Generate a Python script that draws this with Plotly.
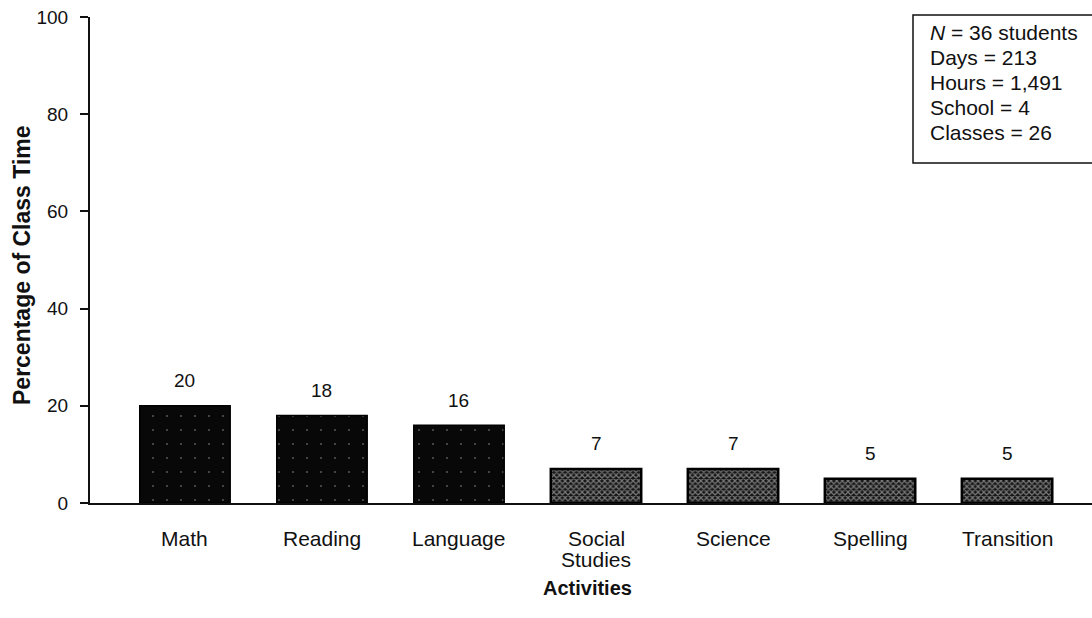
import plotly.graph_objects as go

# Share of class time spent on each activity
activities = ["Math", "Reading", "Language", "Social<br>Studies", "Science", "Spelling", "Transition"]
percent = [20, 18, 16, 7, 7, 5, 5]
core_subject = [True, True, True, False, False, False, False]

summary_lines = [
    "<i>N</i> = 36 students",
    "Days = 213",
    "Hours = 1,491",
    "School = 4",
    "Classes = 26",
]

y_ticks = [0, 20, 40, 60, 80, 100]

FONT = "Liberation Sans, Arial, Helvetica, sans-serif"
INK = "#111111"

# Plot area in pixels (figure is 1092 x 618)
L, R, T, B = 90, 0, 17, 115
PLOT_W = 1092 - L - R
PLOT_H = 618 - T - B


def px_x(x):
    return (x - L) / PLOT_W


def px_y(y):
    return (618 - B - y) / PLOT_H


fig = go.Figure()

# Core subjects: solid dark fill with faint specks
core_x = [a for a, c in zip(activities, core_subject) if c]
core_y = [p for p, c in zip(percent, core_subject) if c]
fig.add_trace(go.Bar(
    x=core_x, y=core_y,
    marker=dict(
        color="#080808",
        line=dict(color="#000000", width=1.5),
        pattern=dict(shape=".", fgcolor="#9a9a9a", bgcolor="#080808", size=14, solidity=0.02),
    ),
    width=0.66,
    showlegend=False,
    hoverinfo="x+y",
))

# Other activities: stippled fill with a dark outline
other_x = [a for a, c in zip(activities, core_subject) if not c]
other_y = [p for p, c in zip(percent, core_subject) if not c]
fig.add_trace(go.Bar(
    x=other_x, y=other_y,
    marker=dict(
        color="#111111",
        line=dict(color="#000000", width=2.5),
        pattern=dict(shape="x", fgcolor="#e0e0e0", bgcolor="#151515", size=4, solidity=0.5),
    ),
    width=0.66,
    showlegend=False,
    hoverinfo="x+y",
))

# Value labels above each bar
for a, p in zip(activities, percent):
    fig.add_annotation(
        x=a, y=p, xref="x", yref="y",
        text=str(p), showarrow=False,
        yshift=25, font=dict(family=FONT, size=19, color=INK),
    )

# Category labels under the axis, one annotation per text line
for a in activities:
    for i, line in enumerate(a.split("<br>")):
        fig.add_annotation(
            x=a, xref="x", yref="paper", y=0,
            yshift=-(35 + 21 * i), yanchor="middle",
            text=line, showarrow=False,
            font=dict(family=FONT, size=21, color=INK),
        )

# Summary box in the upper right corner
fig.add_shape(
    type="rect", xref="paper", yref="paper",
    x0=px_x(913), x1=1.02,
    y0=px_y(163), y1=px_y(15),
    line=dict(color=INK, width=1.5),
    fillcolor="rgba(0,0,0,0)",
    layer="above",
)
for i, line in enumerate(summary_lines):
    fig.add_annotation(
        xref="paper", yref="paper",
        x=px_x(928), y=px_y(33 + 24.8 * i),
        xanchor="left", yanchor="middle", align="left",
        text=line, showarrow=False,
        font=dict(family=FONT, size=21, color=INK),
    )

# Axis titles
fig.add_annotation(
    xref="paper", yref="paper", x=px_x(587), y=px_y(588), yanchor="middle",
    text="<b>Activities</b>", showarrow=False,
    font=dict(family=FONT, size=20, color=INK),
)
fig.add_annotation(
    xref="paper", yref="paper", x=px_x(22), y=px_y(265), xanchor="center", yanchor="middle",
    text="<b>Percentage of Class Time</b>", textangle=-90, showarrow=False,
    font=dict(family=FONT, size=23, color=INK),
)

fig.update_layout(
    width=1092, height=618,
    margin=dict(l=L, r=R, t=T, b=B),
    plot_bgcolor="#ffffff", paper_bgcolor="#ffffff",
    font=dict(family=FONT, size=16, color=INK),
    barmode="overlay",
)
fig.update_xaxes(
    categoryorder="array", categoryarray=activities,
    range=[-0.693, 6.62],
    showline=True, linecolor=INK, linewidth=2,
    ticks="", showgrid=False, zeroline=False,
    showticklabels=False,
)
fig.update_yaxes(
    range=[0, 100], tickvals=y_ticks,
    showline=True, linecolor=INK, linewidth=2,
    ticks="outside", ticklen=8, tickwidth=2, tickcolor=INK,
    showgrid=False, zeroline=False,
    tickfont=dict(family=FONT, size=19, color=INK),
    ticklabelstandoff=8,
)

fig.write_html("out.html")
